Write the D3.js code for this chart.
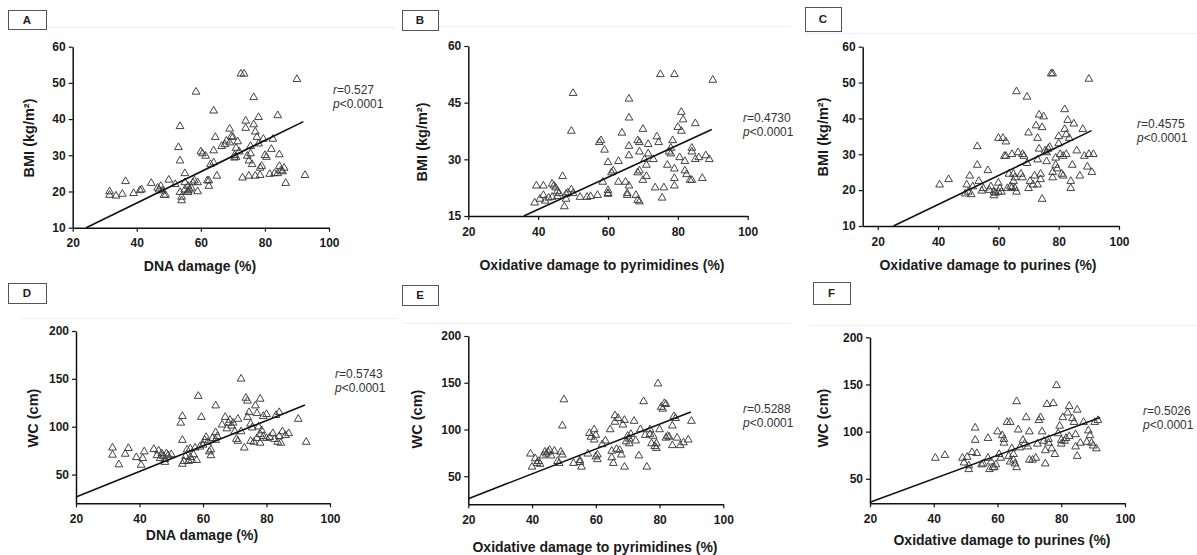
<!DOCTYPE html>
<html>
<head>
<meta charset="utf-8">
<script src="https://cdn.jsdelivr.net/npm/d3@7"></script>
<style>
  body { margin: 0; background: #fff; }
  svg { display: block; font-family: "Liberation Sans", Arial, sans-serif; }
</style>
</head>
<body>
<svg id="fig" width="1197" height="555"></svg>
<script>
// values (x = damage %, y = BMI or WC)
const pointsA = [[31.5,20],[31.5,19],[33.5,18.8],[35.5,19.3],[36.5,22.8],[39,19.5],[41,20.3],[41.5,20.5],[44.5,22.3],[46.5,21],
  [47,20.5],[47.5,21.5],[48,20.2],[48.5,19],[49,19],[50,23.2],[52,22],[53,32.2],[53.5,38],[53.5,28.5],[53.5,19.8],[54,18.5],[54,17.5],
  [55,25],[55,22.5],[55,20.5],[56,21.5],[56.5,20.5],[56,19.8],[56,20.2],[57,21],[57.5,22.5],[58,23],[58.5,47.5],[59,20],[59,22.5],
  [60,31],[60.5,30.5],[61.5,29.8],[62,23],[62.5,21.5],[62.5,23],[63,27.5],[64,42.3],[64,31.3],[64.5,35],[64,28],[65,24.3],
  [66.5,32.5],[67.5,33],[68,34],[69,37.3],[69,33.5],[69.5,35.2],[70,35],[70.5,29.3],[71,29.5],[70.5,30],[71,32],[71.5,33.8],[72,31],
  [72.5,52.5],[73.5,52.5],[73,23.8],[74,39.5],[74,37.5],[74.5,29.8],[75,28.5],[75.5,32.5],[75.5,30.5],[75,24.3],[76,27.5],[76.5,38.5],
  [76.5,46],[77,36.5],[77,24.3],[77.5,35],[78,40.5],[78,33.2],[78.5,26.5],[78.5,24.5],[79,27],[79.5,34.5],[80,30],[80.5,29.5],
  [81.5,24.8],[82,31.7],[82.5,34.5],[83,25],[84,41],[84,25],[84.5,27],[84.5,30.2],[85,25.8],[85.5,25.5],[86,26.5],[86.5,22.3],
  [90,51],[92.5,24.5]];
const pointsB = [[39,18.5],[39.5,23],[41.5,23],[40.5,19.5],[41.5,20.5],[42,19],[43,19.8],[44,23.5],[44.5,23],[45,22.5],[45.5,21.5],
  [46,21],[44,20],[45.5,20.2],[47,25.5],[47.5,17.5],[48,19.5],[48,20.8],[48.5,21.2],[49.5,22],[50,21],[49.5,37.5],[50,47.5],
  [52,20],[54,20],[55,20.2],[57,20.5],[57.5,34.5],[58,35],[58.5,24],[59,32.5],[60,29.2],[60,21.8],[60,21],[60,20.8],[61,26.5],
  [61.5,27],[63,24],[63,29.5],[64,37],[65,24],[65.5,20.5],[65.5,21],[66,31],[66,23],[66,33.5],[66,41],[66,46],[68,20.5],[68.5,19.2],
  [69,18.8],[69,27],[68.5,26.5],[68.5,35],[69,34.5],[69,32],[70,24.5],[70,38],[70.5,30],[71,25.5],[71,28.5],[71.5,31.5],[71.5,34],
  [73,30],[73.5,22.5],[74,36],[74.5,34.5],[75,52.5],[75.5,19.8],[76,22.5],[77,28.5],[77.5,32],[78,31.5],[78,33],[79,52.5],
  [78.5,35],[79,27.5],[79,23],[79,25],[80,38.5],[80.5,30.5],[81,37.5],[81,42.5],[81.5,40.5],[82,29.5],[82,27],[82.5,26],
  [83.5,24.5],[84,24.5],[84,32],[84,33],[85,30],[85,39.5],[86,30.5],[87,25],[88,31],[89,30],[90,51]];
const pointsC = [[40.5,21.5],[43.5,23],[49,19],[49.5,21.5],[50,19.5],[50.5,24],[51,18.8],[51.5,21],[53,32.2],[53,27],[53.5,22.5],
  [54.5,19.8],[55,20.5],[56.5,25.5],[57,20],[57.5,21],[58.5,18.5],[58.5,19.5],[59,19.2],[60,22],[60,19.5],[60,34.5],[60.5,20.5],
  [61,19.5],[61.5,34.5],[62,29.5],[62.5,29.5],[62.5,33.5],[63,20.5],[63.5,24.5],[64,21],[64.5,20.8],[64.5,30],[65,24.5],[65,22.5],
  [65.5,20.5],[66,19.5],[65.5,23.5],[66,47.5],[66.5,30.5],[67.5,24.5],[68,30],[68.5,29.5],[68,23.5],[69.5,46],[69.5,27.5],[70,36],
  [70,20.5],[70.5,22.5],[71.5,21.5],[72,24],[72.5,38],[73,28.5],[73,34.5],[73,21.5],[73.5,41],[73.5,31.5],[74,24.5],[74,23],
  [74.5,37.5],[74.5,17.5],[75,40.5],[75.5,31],[76,30.5],[76,28],[76.5,31.5],[77,32],[77.5,52.5],[78,52.5],[78,25],[78,23.5],
  [79,27],[79,29],[79.5,26],[80,35],[80,33],[80.5,30],[81,24.5],[81.5,24],[81.5,29.5],[82,42.5],[82,37],[82.5,30],[82.5,35.5],
  [83,39.5],[83.5,34.5],[84,22.5],[84,20.5],[84.5,27],[85,38.5],[86,31],[87,24],[88,37],[88.5,29.5],[89.5,26.5],[90,30],[90,51],
  [91,25],[91.5,30]];
const pointsD = [[31.5,78],[31.5,70.5],[33.5,60.5],[35.5,71.5],[36.5,77.5],[39,68],[40.5,60],[41,67],[41.5,74],[44.5,76.5],
  [45.5,70],[46,75],[46.5,67],[47,72],[47.5,69],[48,66],[48.5,72],[48,63],[49,70],[50,71],[53,104],[53.5,111],[53.5,86],[53.5,61],
  [54,64],[54.5,69],[55,76],[55.5,64],[56,77],[56,68],[56.5,65],[57,71],[57.5,78],[58,65],[58.5,132],[59,79],[59.5,110],[60,81],
  [60.5,86],[61,89],[61.5,84],[62,74],[62.5,70],[62.5,76],[63,88],[64,122],[64,94],[64.5,90],[64,86],[66,102],[67,110],[67.5,98],
  [68,104],[68.5,107],[69,101],[69.5,104],[70,95],[70.5,87],[71,85],[71,108],[72,150],[72,95],[73,78],[73.5,130],[74,127],[74,110],
  [74.5,115],[75,103],[75,85],[75.5,99],[76,84],[76.5,122],[77,114],[77,88],[77.5,100],[78,129],[78,92],[78,83],[78.5,96],[79,111],
  [79,90],[80,88],[80,113],[81,89],[82,93],[82.5,87],[83,112],[83.5,84],[84,115],[84,90],[84.5,83],[85,95],[86,91],[87,93],[90,108],
  [92.5,84]];
const pointsE = [[39.5,74],[40,60],[41,69],[41.5,64],[42,66],[42.5,63],[43.5,72],[44,76],[44.5,74],[45,76],[45.5,78],[46,72],
  [47,77],[48,66],[48.5,64],[49,76],[49.5,73],[50,132],[49.5,104],[53,64],[55,67],[55.5,60],[55,65],[57.5,74],[58,96],[58.5,92],
  [59.5,100],[59.5,89],[60,94],[60.5,73],[60.5,68],[60,71],[62,84],[63,88],[64.5,100],[65,77],[65,70],[65.5,64],[66,115],[66,108],
  [66.5,79],[67,112],[67.5,78],[68,73],[68.5,105],[69,60],[69,110],[69.5,87],[70,93],[70.5,90],[70.5,85],[71,95],[72,109],[72.5,88],
  [73.5,72],[74,100],[75,130],[75.5,94],[76,60],[77,100],[77,95],[77.5,85],[78,93],[78.5,82],[79,80],[79,85],[79.5,149],[80,100],
  [80.5,124],[81,122],[81.5,128],[82,127],[82,91],[82.5,93],[83,92],[84,104],[84,83],[84.5,114],[85,112],[85.5,91],[86.5,83],
  [87.5,86],[89,89],[90,109]];
const pointsF = [[40.5,72],[43.5,75],[49,72],[49.5,67],[50.5,73],[51,64],[51,60],[52,78],[53,104],[53,91],[53.5,77],[55,65],
  [55.5,66],[57,93],[57,72],[57.5,60],[58,68],[58.5,62],[59,62],[59.5,65],[60,100],[60.5,76],[61,72],[61.5,96],[62,92],[62,88],
  [63,110],[64,110],[63.5,74],[64,68],[64.5,82],[65,76],[65,70],[65.5,66],[66,132],[66,62],[66.5,102],[67,83],[68,91],[68.5,87],
  [69,115],[69.5,84],[70,100],[70,70],[71,70],[72,72],[72.5,87],[73,112],[73.5,115],[74,100],[74.5,90],[75,80],[75,66],[75.5,129],
  [76,88],[76,92],[77,82],[77.5,130],[78,76],[78.5,149],[79,98],[79.5,106],[80,91],[80,87],[80.5,115],[81,90],[81.5,93],[82,120],
  [82.5,127],[82.5,95],[83.5,114],[84,110],[84.5,97],[84.5,84],[85,74],[85,123],[86,88],[87,110],[88,89],[88.5,101],[89,96],
  [89.5,88],[90,85],[90.5,110],[91,82],[91.5,112]];

// fitted regression lines, end points
const fitA = [[24.2,10],[92,39.3]];
const fitB = [[35.9,15],[89.7,37.9]];
const fitC = [[25.2,10],[90.9,36.6]];
const fitD = [[20,26.6],[92.1,122.6]];
const fitE = [[20,26],[89.8,118.6]];
const fitF = [[20,25],[92.2,115]];

const xTicks = [20, 40, 60, 80, 100];
const bmiTicksAC = [10, 20, 30, 40, 50, 60];
const bmiTicksB = [15, 30, 45, 60];
const wcTicks = [50, 100, 150, 200];
const xTitles = ["DNA damage (%)", "Oxidative damage to pyrimidines (%)", "Oxidative damage to purines (%)"];
const yTitles = ["BMI (kg/m\u00B2)", "WC (cm)"];
const rValues = ["0.527", "0.4730", "0.4575", "0.5743", "0.5288", "0.5026"];
const pText = "<0.0001";

const panels = [
  { id: "A", pts: pointsA, fit: fitA, xDom: [20, 100], yDom: [10, 60], yTicks: bmiTicksAC, xTitle: xTitles[0], yTitle: yTitles[0],
    r: rValues[0], plot: { l: 72.7, r: 329, t: 46.7, b: 227.7 }, xt: [200, 271], yt: [29, 138], ann: [333, 94], box: [8, 10, 46, 29],
    frame: [46, 27, 395, 27] },
  { id: "B", pts: pointsB, fit: fitB, xDom: [20, 100], yDom: [15, 60], yTicks: bmiTicksB, xTitle: xTitles[1], yTitle: yTitles[0],
    r: rValues[1], plot: { l: 468.3, r: 747.7, t: 46, b: 216 }, xt: [602, 270], yt: [422, 142], ann: [743, 122], box: [402, 10, 438, 30],
    frame: [438, 26, 790, 26] },
  { id: "C", pts: pointsC, fit: fitC, xDom: [15, 100], yDom: [10, 60], yTicks: bmiTicksAC, xTitle: xTitles[2], yTitle: yTitles[0],
    r: rValues[2], plot: { l: 862.7, r: 1119, t: 46.7, b: 226 }, xt: [988, 270], yt: [823, 137], ann: [1137, 128], box: [805, 7, 841, 31],
    frame: [805, 33, 1197, 33] },
  { id: "D", pts: pointsD, fit: fitD, xDom: [20, 100], yDom: [20, 200], yTicks: wcTicks, xTitle: xTitles[0], yTitle: yTitles[1],
    r: rValues[3], plot: { l: 76, r: 330, t: 331, b: 503.3 }, xt: [202, 540], yt: [33, 418], ann: [335, 378], box: [8, 283, 46, 303],
    frame: [22, 318, 398, 318] },
  { id: "E", pts: pointsE, fit: fitE, xDom: [20, 100], yDom: [20, 200], yTicks: wcTicks, xTitle: xTitles[1], yTitle: yTitles[1],
    r: rValues[4], plot: { l: 468.3, r: 723.3, t: 336, b: 504.3 }, xt: [595, 552], yt: [417, 419], ann: [743, 413], box: [402, 285, 438, 305],
    frame: [403, 323, 790, 323] },
  { id: "F", pts: pointsF, fit: fitF, xDom: [20, 100], yDom: [24, 200], yTicks: wcTicks, xTitle: xTitles[2], yTitle: yTitles[1],
    r: rValues[5], plot: { l: 870, r: 1125, t: 337.3, b: 503.3 }, xt: [1002, 545], yt: [823, 418], ann: [1143, 415], box: [813, 282, 850, 304],
    frame: [810, 325, 1197, 325] }
];

const svg = d3.select("#fig");
const tri = d3.symbol().type(d3.symbolTriangle).size(26);

panels.forEach(p => {
  const g = svg.append("g").attr("class", "panel");
  const x = d3.scaleLinear().domain(p.xDom).range([p.plot.l, p.plot.r]);
  const y = d3.scaleLinear().domain(p.yDom).range([p.plot.b, p.plot.t]);

  // faint sub-figure edge from the scanned composite
  g.append("line")
    .attr("x1", p.frame[0]).attr("y1", p.frame[1] + 0.5)
    .attr("x2", p.frame[2]).attr("y2", p.frame[3] + 0.5)
    .attr("stroke", "#efefef").attr("stroke-width", 1);

  // panel letter box
  g.append("rect")
    .attr("x", p.box[0] + 0.5).attr("y", p.box[1] + 0.5)
    .attr("width", p.box[2] - p.box[0]).attr("height", p.box[3] - p.box[1])
    .attr("fill", "#fff").attr("stroke", "#555").attr("stroke-width", 1);
  g.append("text")
    .attr("x", (p.box[0] + p.box[2]) / 2).attr("y", (p.box[1] + p.box[3]) / 2 + 4)
    .attr("text-anchor", "middle").attr("font-size", 11.5).attr("font-weight", "bold").attr("fill", "#222")
    .text(p.id);

  // axes
  const xAxis = d3.axisBottom(x).tickValues(xTicks).tickSize(4).tickPadding(7).tickSizeOuter(0);
  const yAxis = d3.axisLeft(y).tickValues(p.yTicks).tickSize(4).tickPadding(3).tickSizeOuter(0);

  const gx = g.append("g").attr("transform", `translate(0,${p.plot.b})`).call(xAxis);
  const gy = g.append("g").attr("transform", `translate(${p.plot.l},0)`).call(yAxis);
  [gx, gy].forEach(a => {
    a.select(".domain").attr("stroke", "#111").attr("stroke-width", 1.5);
    a.selectAll(".tick line").attr("stroke", "#111").attr("stroke-width", 1.2);
    a.selectAll(".tick text").attr("font-size", 12).attr("font-weight", "bold").attr("fill", "#1a1a1a")
      .attr("font-family", "'Liberation Sans', Arial, sans-serif");
  });

  // axis titles
  g.append("text")
    .attr("x", p.xt[0]).attr("y", p.xt[1])
    .attr("text-anchor", "middle").attr("font-size", 14).attr("font-weight", "bold").attr("fill", "#1a1a1a")
    .text(p.xTitle);
  g.append("text")
    .attr("transform", `translate(${p.yt[0] + 5},${p.yt[1]}) rotate(-90)`)
    .attr("text-anchor", "middle").attr("font-size", 14.5).attr("font-weight", "bold").attr("fill", "#1a1a1a")
    .text(p.yTitle);

  // points
  g.append("g").selectAll("path")
    .data(p.pts)
    .join("path")
      .attr("d", tri)
      .attr("transform", d => `translate(${x(d[0])},${y(d[1])})`)
      .attr("fill", "none")
      .attr("stroke", "#3a3a3a")
      .attr("stroke-width", 0.95);

  // regression line
  g.append("path")
    .datum(p.fit)
    .attr("d", d3.line().x(d => x(d[0])).y(d => y(d[1])))
    .attr("stroke", "#111").attr("stroke-width", 1.6).attr("fill", "none");

  // r / p annotation
  const ann = g.append("text").attr("font-size", 12).attr("fill", "#333");
  const l1 = ann.append("tspan").attr("x", p.ann[0]).attr("y", p.ann[1]);
  l1.append("tspan").attr("font-style", "italic").text("r");
  l1.append("tspan").text("=" + p.r);
  const l2 = ann.append("tspan").attr("x", p.ann[0]).attr("y", p.ann[1] + 14);
  l2.append("tspan").attr("font-style", "italic").text("p");
  l2.append("tspan").text(pText);
});
</script>
</body>
</html>
